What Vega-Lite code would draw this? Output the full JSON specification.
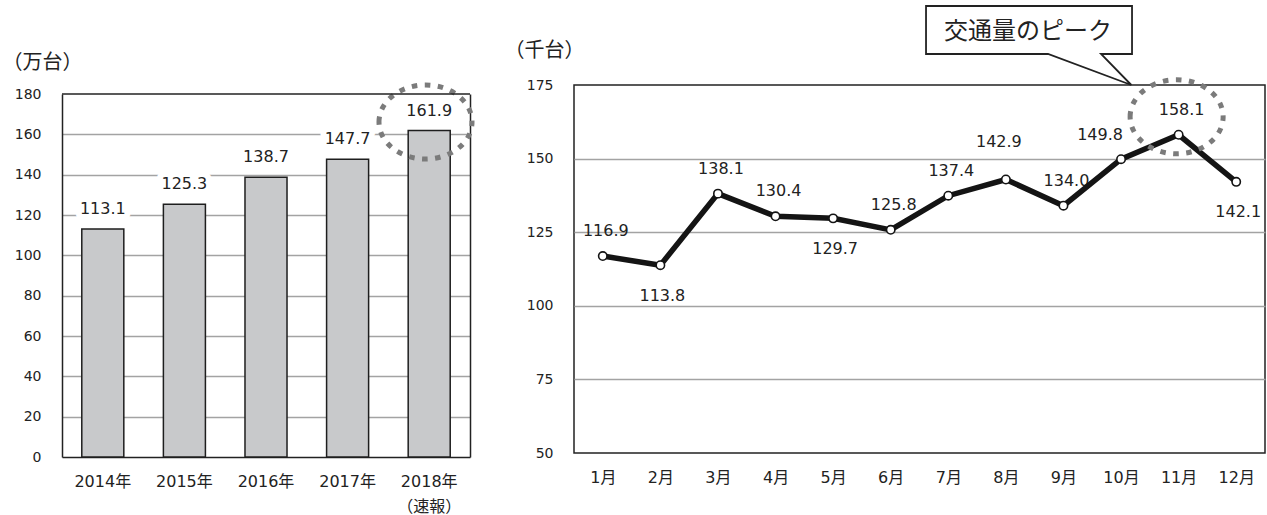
{
  "$schema": "https://vega.github.io/schema/vega-lite/v6.json",
  "background": "white",
  "padding": {"left": 2, "top": 1, "right": 0, "bottom": 0},
  "spacing": 20,
  "config": {
    "font": "DejaVu Sans, Noto Sans CJK JP",
    "axis": {
      "labelFont": "DejaVu Sans, Noto Sans CJK JP",
      "titleFont": "Noto Sans CJK JP",
      "labelColor": "#222222",
      "titleColor": "#222222",
      "titleFontWeight": "normal"
    },
    "text": {"font": "DejaVu Sans, Noto Sans CJK JP", "color": "#222222"}
  },
  "hconcat": [
    {
      "width": 408,
      "height": 372,
      "view": {"stroke": null},
      "data": {
        "values": [
          {"year": "2014年", "value": 113.1},
          {"year": "2015年", "value": 125.3},
          {"year": "2016年", "value": 138.7},
          {"year": "2017年", "value": 147.7},
          {"year": "2018年", "value": 161.9}
        ]
      },
      "layer": [
        {
          "encoding": {
            "x": {
              "field": "year",
              "type": "nominal",
              "sort": ["2014年", "2015年", "2016年", "2017年", "2018年"],
              "scale": {"paddingInner": 0.485, "paddingOuter": 0.2425},
              "axis": {
                "title": null,
                "labelAngle": 0,
                "ticks": false,
                "tickSize": 0,
                "labelPadding": 16,
                "labelFontSize": 16,
                "labelBaseline": "top",
                "labelLineHeight": 25,
                "domainColor": "#222222",
                "domainWidth": 1.5,
                "labelExpr": "datum.value == '2018年' ? ['2018年', '（速報）'] : datum.value"
              }
            },
            "y": {
              "field": "value",
              "type": "quantitative",
              "scale": {"domain": [0, 180], "range": [372, 9], "nice": false},
              "axis": {
                "values": [0, 20, 40, 60, 80, 100, 120, 140, 160, 180],
                "grid": true,
                "gridColor": "#a3a3a3",
                "gridWidth": 1.5,
                "gridOpacity": {"condition": {"test": "datum.value == 0 || datum.value == 180", "value": 0}, "value": 1},
                "ticks": false,
                "tickSize": 0,
                "labelPadding": 21,
                "labelFontSize": 14,
                "domainColor": "#222222",
                "domainWidth": 1.5,
                "title": "（万台）",
                "titleAngle": 0,
                "titleAlign": "center",
                "titleBaseline": "middle",
                "titleX": -20,
                "titleY": -23,
                "titleFontSize": 20
              }
            }
          },
          "layer": [
            {"mark": {"type": "bar", "fill": "#c8c9cb", "stroke": "#1e1e1e", "strokeWidth": 1.5}},
            {
              "mark": {"type": "text", "dy": -20, "baseline": "middle", "fontSize": 16, "fill": "white", "stroke": "white", "strokeWidth": 12, "strokeJoin": "round"},
              "encoding": {"text": {"field": "value", "type": "quantitative", "format": ".1f"}}
            },
            {
              "mark": {"type": "text", "dy": -20, "baseline": "middle", "fontSize": 16, "fill": "#222222"},
              "encoding": {"text": {"field": "value", "type": "quantitative", "format": ".1f"}}
            },
            {
              "transform": [{"filter": "datum.year == '2018年'"}],
              "mark": {
                "type": "point",
                "shape": "M -1.257 0 C -1.257 -0.5523 -0.694 -1 0 -1 C 0.694 -1 1.257 -0.5523 1.257 0 C 1.257 0.5523 0.694 1 0 1 C -0.694 1 -1.257 0.5523 -1.257 0 Z",
                "size": 5476,
                "filled": false,
                "opacity": 1,
                "stroke": "#7b7b7b",
                "strokeWidth": 5,
                "strokeDash": [5.5, 7.5],
                "xOffset": -3.7,
                "yOffset": -8.5
              }
            }
          ]
        },
        {
          "transform": [{"filter": "datum.year == '2014年'"}],
          "mark": {"type": "rule", "color": "#222222", "strokeWidth": 1.5},
          "encoding": {
            "y": {
              "datum": 180,
              "type": "quantitative",
              "scale": {"domain": [0, 180], "range": [372, 9], "nice": false},
              "axis": {"orient": "right", "labels": false, "ticks": false, "grid": false, "title": null, "domainColor": "#222222", "domainWidth": 1.5}
            }
          }
        }
      ],
      "resolve": {"scale": {"y": "independent"}}
    },
    {
      "width": 691,
      "height": 368,
      "view": {"stroke": "#222222", "strokeWidth": 1.5},
      "data": {
        "values": [
          {"month": "1月", "value": 116.9},
          {"month": "2月", "value": 113.8},
          {"month": "3月", "value": 138.1},
          {"month": "4月", "value": 130.4},
          {"month": "5月", "value": 129.7},
          {"month": "6月", "value": 125.8},
          {"month": "7月", "value": 137.4},
          {"month": "8月", "value": 142.9},
          {"month": "9月", "value": 134.0},
          {"month": "10月", "value": 149.8},
          {"month": "11月", "value": 158.1},
          {"month": "12月", "value": 142.1}
        ]
      },
      "encoding": {
        "x": {
          "field": "month",
          "type": "ordinal",
          "sort": ["1月", "2月", "3月", "4月", "5月", "6月", "7月", "8月", "9月", "10月", "11月", "12月"],
          "scale": {"type": "point", "padding": 0.5},
          "axis": {
            "title": null,
            "labelAngle": 0,
            "ticks": false,
            "tickSize": 0,
            "labelPadding": 16,
            "labelFontSize": 16,
            "labelBaseline": "top",
            "domain": false,
            "grid": false
          }
        },
        "y": {
          "field": "value",
          "type": "quantitative",
          "scale": {"domain": [50, 175], "nice": false, "zero": false},
          "axis": {
            "values": [50, 75, 100, 125, 150, 175],
            "grid": true,
            "gridColor": "#a3a3a3",
            "gridWidth": 1.5,
            "gridOpacity": {"condition": {"test": "datum.value == 50 || datum.value == 175", "value": 0}, "value": 1},
            "ticks": false,
            "tickSize": 0,
            "labelPadding": 21,
            "labelFontSize": 14,
            "domain": false,
            "title": "（千台）",
            "titleAngle": 0,
            "titleAlign": "center",
            "titleBaseline": "middle",
            "titleX": -30,
            "titleY": -35,
            "titleFontSize": 20
          }
        }
      },
      "layer": [
        {
          "transform": [{"filter": {"field": "month", "oneOf": ["1月", "3月", "4月", "6月", "7月", "9月", "11月"]}}],
          "mark": {"type": "text", "dx": 3, "dy": -25, "baseline": "middle", "fontSize": 16},
          "encoding": {"text": {"field": "value", "type": "quantitative", "format": ".1f"}}
        },
        {
          "transform": [{"filter": {"field": "month", "oneOf": ["2月", "5月", "12月"]}}],
          "mark": {"type": "text", "dx": 2, "dy": 30.5, "baseline": "middle", "fontSize": 16},
          "encoding": {"text": {"field": "value", "type": "quantitative", "format": ".1f"}}
        },
        {
          "transform": [{"filter": "datum.month == '8月'"}],
          "mark": {"type": "text", "dx": -7, "dy": -38, "baseline": "middle", "fontSize": 16},
          "encoding": {"text": {"field": "value", "type": "quantitative", "format": ".1f"}}
        },
        {
          "transform": [{"filter": "datum.month == '10月'"}],
          "mark": {"type": "text", "dx": -21, "dy": -24, "baseline": "middle", "fontSize": 16},
          "encoding": {"text": {"field": "value", "type": "quantitative", "format": ".1f"}}
        },
        {"mark": {"type": "line", "color": "#141414", "strokeWidth": 5.5}},
        {"mark": {"type": "point", "shape": "circle", "size": 70, "filled": true, "fill": "white", "stroke": "#141414", "strokeWidth": 1.6, "opacity": 1}},
        {
          "transform": [{"filter": "datum.month == '11月'"}],
          "mark": {
            "type": "point",
            "shape": "M -1.257 0 C -1.257 -0.5523 -0.694 -1 0 -1 C 0.694 -1 1.257 -0.5523 1.257 0 C 1.257 0.5523 0.694 1 0 1 C -0.694 1 -1.257 0.5523 -1.257 0 Z",
            "size": 5476,
            "filled": false,
            "opacity": 1,
            "stroke": "#7b7b7b",
            "strokeWidth": 5,
            "strokeDash": [5.5, 7.5],
            "xOffset": -2,
            "yOffset": -18
          }
        },
        {
          "transform": [{"filter": "datum.month == '11月'"}],
          "mark": {
            "type": "point",
            "shape": "M -2.526 -1.2875 L -0.466 -1.2875 L -0.466 -0.8075 L -0.776 -0.8075 L -0.473 -0.4975 L -1.306 -0.8075 L -2.526 -0.8075 Z",
            "size": 40000,
            "filled": true,
            "fill": "white",
            "opacity": 1,
            "stroke": "#222222",
            "strokeWidth": 1.8
          }
        },
        {
          "transform": [{"filter": "datum.month == '11月'"}],
          "mark": {"type": "text", "text": "交通量のピーク", "font": "Noto Sans CJK JP", "fontSize": 24, "dx": -150.6, "dy": -103, "baseline": "middle", "align": "center", "fill": "#222222"}
        }
      ]
    }
  ]
}
